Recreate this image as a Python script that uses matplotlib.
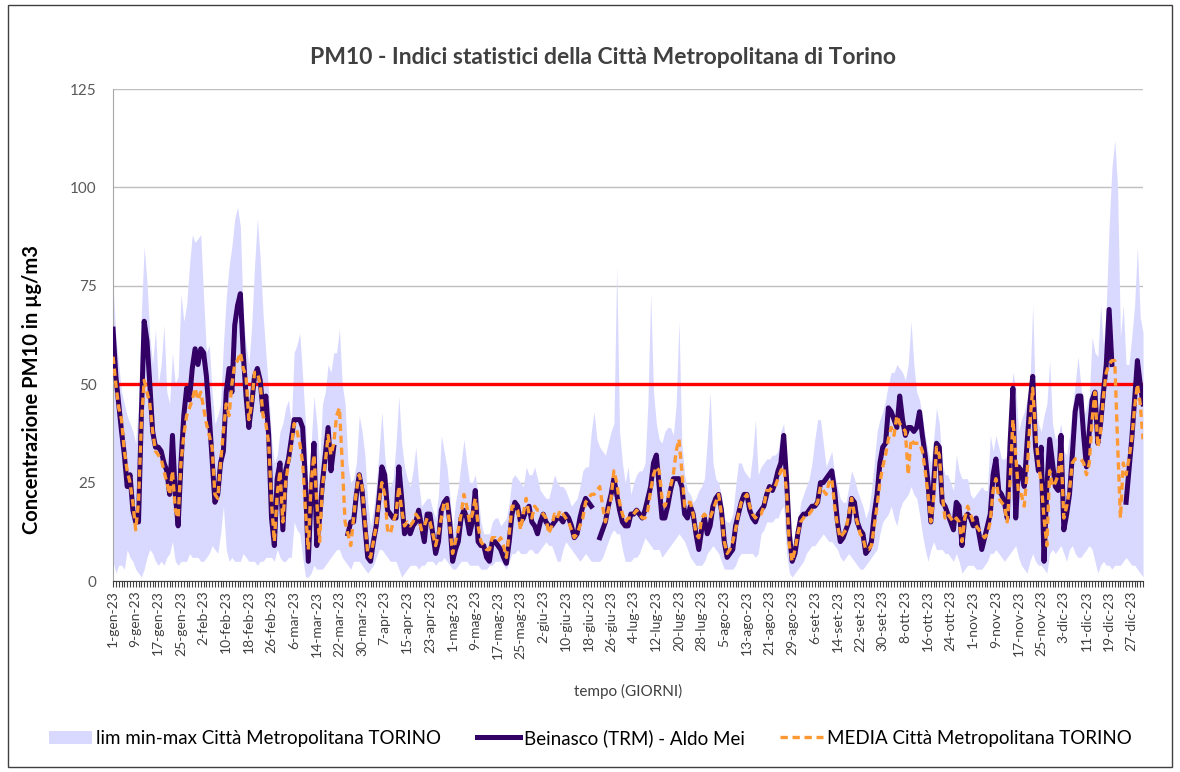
import datetime
import numpy as np
import matplotlib.pyplot as plt
from matplotlib.patches import Rectangle

nan = np.nan

# PM10 giornaliero 2023
beinasco = [
    64, 52, 45, 38, 32, 24, 27, 18, 15, 15,
    42, 66, 61, 50, 38, 34, 34, 33, 30, 28,
    22, 37, 22, 14, 30, 42, 49, 46, 54, 59,
    55, 59, 58, 52, 42, 31, 20, 22, 30, 33,
    48, 54, 48, 65, 70, 73, 58, 47, 39, 45,
    52, 54, 51, 43, 47, 37, 16, 9, 26, 30,
    13, 28, 31, 36, 41, 41, 41, 39, 25, 5,
    22, 35, 9, 16, 25, 32, 39, 28, 34, nan,
    nan, nan, nan, 12, 15, 15, 22, 27, 23, 14,
    6, 5, 10, 14, 21, 29, 27, 18, 17, 16,
    16, 29, 21, 12, 14, 12, 14, 15, 18, 14,
    10, 17, 17, 12, 7, 10, 18, 20, 21, 15,
    5, 8, 10, 16, 18, 16, 12, 15, 23, 10,
    9, 9, 6, 5, 10, 10, 9, 8, 6, 4.5,
    10, 17, 20, 19, 15, 16, 18, 19, 15, 14,
    12, 15, 17, 15, 14, 14, 15, 16, 16, 15,
    17, 16, 14, 11, 12, 16, 19, 21, 20, 19,
    nan, nan, 11, 13, 15, 19, 22, 26, 22, 18,
    15, 14, 14, 17, 17, 18, 17, 16, 18, 21,
    24, 30, 32, 24, 16, 16, 19, 23, 26, 26,
    26, 24, 17, 16, 19, 17, 12, 8, 13, 16,
    12, 14, 19, 21, 22, 18, 10, 6, 7, 8,
    14, 17, 20, 22, 22, 18, 16, 15, 17, 18,
    19, 22, 24, 23, 25, 28, 30, 37, 26, 12,
    5, 7, 12, 16, 17, 17, 18, 19, 19, 20,
    25, 25, 26, 27, 28, 23, 15, 10, 11, 13,
    15, 21, 20, 15, 13, 12, 7, 8, 10, 17,
    22, 30, 34, 35, 44, 43, 41, 39, 47, 41,
    37, 39, 39, 38, 39, 43, 37, 32, 25, 15,
    25, 35, 34, 20, 19, 17, 15, 13, 20, 19,
    9, 16, 17, 16, 14, 16, 12, 8, 11, 14,
    17, 27, 31, 23, 22, 20, 16, 35, 49, 16,
    29, 28, 24, 35, 45, 52, 34, 28, 34, 5,
    24, 36, 30, 24, 23, 37, 13, 17, 22, 32,
    43, 47, 47, 37, 29, 38, 46, 48, 35, 40,
    48, 55, 69, 55, nan, nan, nan, nan, 20, 28,
    36, 46, 56, 50, 45,
]

media = [
    57, 50, 44, 41, 33, 28, 25, 20, 13, 20,
    40, 51, 48, 45, 38, 33, 32, 31, 28, 25,
    22, 28, 18, 16, 30, 37, 42, 44, 46, 49,
    46, 48, 44, 40, 37, 34, 22, 21, 30, 38,
    45, 42, 50, 55, 56, 58, 54, 52, 41, 45,
    53, 53, 50, 42, 40, 35, 20, 10, 22, 28,
    15, 25, 30, 34, 40, 38, 35, 30, 18, 8,
    25, 32, 20, 10, 24, 30, 37, 32, 35, 42,
    44, 30, 15, 12, 9, 16, 23, 27, 24, 15,
    7, 6, 10, 14, 20, 25, 22, 13, 12, 15,
    17, 24, 18, 14, 15, 14, 15, 17, 16, 13,
    14, 16, 15, 12, 9, 12, 16, 20, 20, 14,
    7, 10, 13, 17, 22, 19, 15, 17, 21, 14,
    10, 9, 8, 8, 11, 11, 10, 11, 9, 6,
    12, 19, 19, 18, 13, 17, 21, 17, 16, 19,
    18, 18, 17, 16, 12, 14, 17, 16, 18, 17,
    16, 15, 13, 11, 12, 14, 16, 20, 21, 22,
    22, 23, 24, 19, 15, 18, 21, 28, 25, 20,
    17, 15, 16, 16, 17, 18, 17, 16, 16, 18,
    23, 27, 29, 28, 21, 19, 21, 24, 27, 33,
    36, 28, 19, 20, 20, 17, 12, 11, 16, 17,
    16, 16, 18, 20, 22, 17, 10, 7, 8, 10,
    13, 17, 20, 21, 22, 19, 17, 16, 17, 17,
    19, 23, 23, 24, 24, 26, 28, 29, 23, 9,
    5, 8, 12, 15, 16, 17, 17, 18, 19, 20,
    24, 23, 22, 25, 26, 19, 14, 11, 12, 13,
    17, 21, 17, 15, 12, 11, 8, 8, 9, 14,
    19, 25, 29, 32, 36, 39, 37, 42, 40, 39,
    38, 27, 36, 35, 35, 35, 33, 28, 22, 15,
    21, 34, 32, 22, 16, 17, 16, 15, 16, 15,
    10, 16, 19, 17, 15, 14, 13, 12, 11, 12,
    15, 23, 26, 21, 20, 19, 15, 25, 41, 32,
    22, 22, 19, 27, 40, 49, 38, 30, 25, 16,
    9, 28, 24, 25, 27, 33, 16, 19, 23, 30,
    31, 31, 31, 30, 27, 30, 41, 48, 34, 38,
    47, 53, 55, 56, 56, 35, 16, 30, 27, 31,
    36, 44, 50, 45, 36,
]

lim_max = [
    75, 62, 55, 48, 45, 42, 40, 38, 35, 45,
    68, 85, 76, 62, 55, 64, 50, 55, 65, 48,
    45, 58, 50, 52, 73, 66, 70, 80, 88, 86,
    87, 88, 72, 58, 60, 48, 40, 42, 45, 60,
    72, 80, 85, 92, 95, 90, 67, 60, 55, 65,
    80, 92, 82, 68, 58, 48, 36, 30, 32, 38,
    40, 44, 46, 40, 58, 60, 63, 52, 40, 22,
    35, 47, 40, 30, 45, 48, 55, 53, 58, 58,
    64, 50, 45, 30, 25, 26, 30, 42, 38, 32,
    20, 14, 18, 24, 33, 43, 32, 25, 24, 26,
    35, 47, 35, 29, 26, 24, 28, 34, 25, 19,
    20, 21, 21, 18, 16, 22, 37, 33, 29, 22,
    13, 20, 24, 30, 36, 30, 25, 25, 27, 22,
    15, 12, 12, 12, 15, 16, 16, 14, 15, 16,
    20, 26, 27, 26, 25, 24, 29, 27, 27, 29,
    26, 23, 22, 21, 21, 24, 27, 25, 24, 24,
    23, 21, 19, 20, 21, 24, 28, 29, 29, 38,
    43, 36, 34, 33, 32, 35, 38, 40, 80, 38,
    30, 25, 29, 22, 25, 27, 28, 28, 30, 45,
    73, 48, 40, 36, 35, 38, 39, 39, 37, 45,
    66, 35, 27, 23, 22, 20, 21, 23, 24, 26,
    36, 48, 30, 26, 25, 22, 16, 15, 15, 17,
    24, 30, 30, 28, 27, 26, 32, 41, 27, 29,
    30, 31, 31, 32, 32, 33, 38, 40, 30, 15,
    8, 11, 15, 20, 22, 24, 26, 30, 36, 41,
    41, 35, 29, 31, 33, 27, 24, 21, 20, 20,
    24, 28, 26, 23, 21, 19, 16, 18, 23, 30,
    38, 41, 43, 46, 50, 53, 53, 55, 54, 53,
    51, 55, 66, 55, 48, 46, 42, 37, 33, 30,
    36, 44, 40, 30, 27, 27, 25, 23, 32, 28,
    26, 26, 26, 22, 21, 22, 23, 24, 23, 23,
    37, 33, 37, 34, 31, 31, 32, 45, 53, 49,
    38, 41, 43, 46, 50, 70, 45, 40, 38, 42,
    45, 56, 40, 36, 37, 40, 33, 32, 37, 44,
    50, 57, 50, 42, 44, 47, 62, 58, 57, 70,
    60, 70, 90, 105, 112, 100, 62, 70, 55, 55,
    62, 70, 85, 67, 63,
]

lim_min = [
    5, 2, 4, 4, 3, 8, 6, 5, 3, 2,
    1, 3, 6, 8, 7, 5, 4, 5, 4, 6,
    7, 10, 5, 4, 5, 5, 5, 7, 6, 6,
    6, 5, 5, 6, 7, 9, 8, 7, 12, 19,
    8, 5, 6, 5, 5, 5, 7, 6, 5, 5,
    5, 4, 5, 5, 6, 6, 6, 5, 8, 6,
    5, 5, 6, 6, 15, 13, 12, 6, 1, 1,
    2, 4, 3, 3, 3, 4, 5, 6, 7, 8,
    8, 6, 5, 4, 3, 5, 5, 5, 4, 3,
    2, 3, 4, 6, 8, 8, 7, 6, 5, 5,
    5, 3, 1, 2, 3, 4, 4, 4, 3, 4,
    4, 5, 5, 5, 4, 5, 5, 6, 5, 4,
    3, 3, 4, 5, 5, 5, 4, 4, 4, 4,
    3, 3, 3, 4, 4, 5, 5, 5, 4, 3,
    5, 7, 7, 8, 7, 7, 7, 8, 8, 7,
    7, 8, 9, 10, 9, 9, 7, 5, 5, 8,
    10, 9, 8, 7, 6, 5, 6, 7, 6, 5,
    5, 5, 5, 6, 8, 10, 12, 13, 12, 12,
    8, 5, 5, 5, 6, 6, 7, 9, 11, 10,
    9, 8, 8, 8, 6, 7, 8, 9, 10, 11,
    12, 11, 10, 8, 6, 5, 4, 4, 4, 5,
    7, 8, 9, 8, 7, 5, 3, 3, 3, 3,
    4, 6, 7, 7, 7, 7, 7, 6, 7, 12,
    13, 15, 15, 15, 16, 16, 18, 19, 7, 2,
    1, 2, 3, 4, 5, 7, 8, 9, 9, 10,
    11, 12, 11, 10, 10, 9, 8, 6, 5, 6,
    7, 6, 5, 4, 3, 3, 4, 5, 6, 7,
    8, 12, 15, 16, 17, 19, 16, 14, 18, 20,
    21, 22, 24, 22, 21, 17, 12, 8, 5, 8,
    10, 8, 8, 8, 7, 7, 6, 5, 7, 5,
    2, 3, 4, 4, 4, 3, 3, 3, 4, 5,
    7, 7, 8, 7, 6, 5, 6, 7, 8, 9,
    6, 4, 3, 2, 5, 7, 5, 4, 4, 3,
    2, 7, 8, 7, 8, 9, 7, 5, 8, 9,
    7, 6, 6, 7, 8, 9, 8, 5, 2, 4,
    5, 4, 4, 3, 4, 4, 4, 5, 6, 5,
    4, 4, 3, 2, 1,
]

limite = 50
mesi = ['gen', 'feb', 'mar', 'apr', 'mag', 'giu',
        'lug', 'ago', 'set', 'ott', 'nov', 'dic']

plt.rcParams['font.family'] = ['Lato', 'DejaVu Sans']

days = np.arange(len(beinasco))
start = datetime.date(2023, 1, 1)
tick_days = np.arange(0, 365, 8)
tick_labels = []
for d in tick_days:
    dt = start + datetime.timedelta(days=int(d))
    tick_labels.append(f"{dt.day}-{mesi[dt.month - 1]}-23")

fig = plt.figure(figsize=(11.8, 7.72), dpi=100)
# cornice del grafico
fig.patches.append(Rectangle((0.0068, 0.006), 0.9864, 0.988, transform=fig.transFigure,
                             fill=False, edgecolor='#404040', linewidth=1))

ax = fig.add_axes([0.0958, 0.2474, 0.8729, 0.6373])

ax.fill_between(days, lim_min, lim_max, color='#d9d9ff', linewidth=0,
                label='lim min-max Città Metropolitana TORINO', zorder=1)
ax.axhline(limite, color='#ff0000', linewidth=2.4, zorder=2)
ax.plot(days, beinasco, color='#330066', linewidth=3.6,
        label='Beinasco (TRM) - Aldo Mei', zorder=3)
ax.plot(days, media, color='#ff9933', linewidth=2.4, linestyle=(0, (2.2, 1.4)),
        label='MEDIA Città Metropolitana TORINO', zorder=4)

ax.set_xlim(0, 364)
ax.set_ylim(0, 125)
ax.set_yticks([0, 25, 50, 75, 100, 125])
ax.yaxis.grid(True, color='#bfbfbf', linewidth=1)
ax.set_axisbelow(True)
ax.tick_params(axis='y', length=0, pad=12, labelsize=11, labelcolor='#595959')

ax.set_xticks(tick_days)
ax.set_xticklabels(tick_labels, rotation=90, fontsize=10, color='#404040')
ax.set_xticks(days, minor=True)
ax.tick_params(axis='x', which='both', direction='out', length=4, width=0.8,
               color='#404040', pad=3)

for s in ['top', 'right']:
    ax.spines[s].set_visible(False)
ax.spines['left'].set_color('#a6a6a6')
ax.spines['bottom'].set_color('#404040')

fig.text(0.511, 0.926, 'PM10 - Indici statistici della Città Metropolitana di Torino',
         ha='center', va='center', fontsize=16.5, fontweight='bold', color='#404040')
fig.text(0.027, 0.495, 'Concentrazione PM10 in µg/m3', rotation=90,
         ha='center', va='center', fontsize=14.5, fontweight='bold', color='black')
fig.text(0.532, 0.104, 'tempo (GIORNI)', ha='center', va='center',
         fontsize=11, color='#404040')

fig.legend(loc='center', bbox_to_anchor=(0.5004, 0.044), ncol=3, frameon=False,
           fontsize=13.5, handlelength=2.3, columnspacing=1.9, handletextpad=0.2)

fig.savefig('out.png', dpi=100)
